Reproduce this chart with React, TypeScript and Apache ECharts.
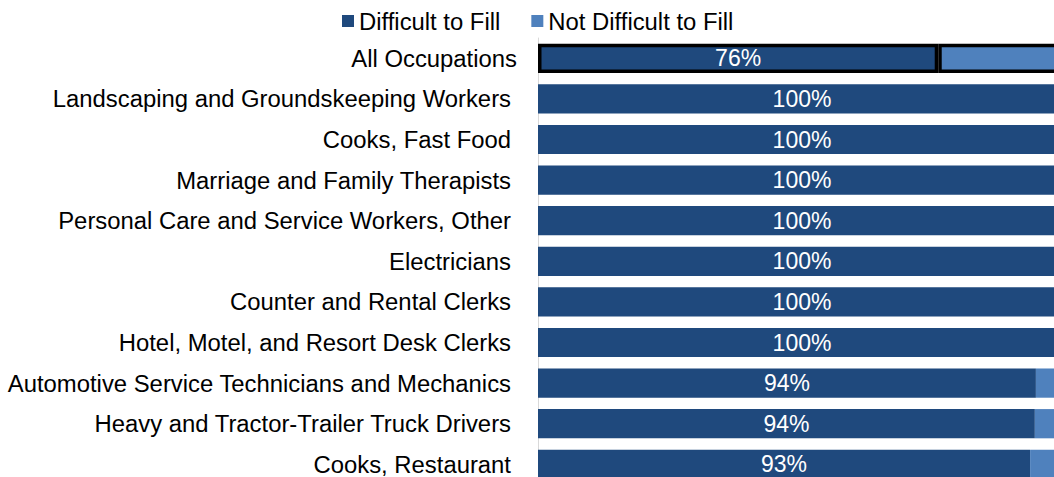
import React, { useEffect, useRef } from "react";
import * as echarts from "echarts";

const categories = [
  "All Occupations",
  "Landscaping and Groundskeeping Workers",
  "Cooks, Fast Food",
  "Marriage and Family Therapists",
  "Personal Care and Service Workers, Other",
  "Electricians",
  "Counter and Rental Clerks",
  "Hotel, Motel, and Resort Desk Clerks",
  "Automotive Service Technicians and Mechanics",
  "Heavy and Tractor-Trailer Truck Drivers",
  "Cooks, Restaurant",
];

const difficultToFill = [75.8, 100, 100, 100, 100, 100, 100, 100, 94.3, 94.1, 93.2];
const notDifficultToFill = [24.2, 0, 0, 0, 0, 0, 0, 0, 5.7, 5.9, 6.8];

const seriesNames = ["Difficult to Fill", "Not Difficult to Fill"];

const DARK = "#1F497D";
const LIGHT = "#4F81BD";
const FONT = "'Liberation Sans', Arial, sans-serif";
const FS = 23.85;

export default function App() {
  const ref = useRef<HTMLDivElement>(null);

  useEffect(() => {
    if (!ref.current) return;
    const chart = echarts.init(ref.current, undefined, { renderer: "svg" });

    const highlight = (i: number) =>
      i === 0 ? { borderColor: "#000", borderWidth: 3.5 } : {};

    chart.setOption({
      animation: false,
      textStyle: { fontFamily: FONT },
      legend: {
        data: seriesNames,
        left: 337,
        top: 4,
        icon: "rect",
        itemWidth: 12,
        itemHeight: 12,
        itemGap: 31,
        textStyle: { fontSize: FS, color: "#000", fontFamily: FONT },
      },
      grid: { left: 538, right: 4, top: 38, bottom: 5.4, containLabel: false },
      xAxis: { type: "value", min: 0, max: 100, show: false },
      yAxis: {
        type: "category",
        inverse: true,
        data: categories,
        axisLine: { show: true, lineStyle: { color: "#D9D9D9", width: 1 } },
        axisTick: { show: false },
        axisLabel: {
          margin: 21,
          fontSize: FS,
          color: "#000",
          fontFamily: FONT,
          formatter: (v: string) =>
            v === categories[0] ? `{a|${v}}` : `{b|${v}}`,
          rich: {
            a: { fontSize: FS, color: "#000", fontFamily: FONT },
            b: { fontSize: FS, color: "#000", fontFamily: FONT, padding: [0, 6, 0, 0] },
          },
        },
      },
      series: [
        {
          name: seriesNames[0],
          type: "bar",
          stack: "total",
          barCategoryGap: "28%",
          itemStyle: { color: DARK },
          label: {
            show: true,
            position: "inside",
            color: "#fff",
            fontSize: 23,
            fontFamily: FONT,
            formatter: (p: any) => `${Math.round(p.value)}%`,
          },
          data: difficultToFill.map((v, i) => ({
            value: v,
            itemStyle: { color: DARK, ...highlight(i) },
          })),
        },
        {
          name: seriesNames[1],
          type: "bar",
          stack: "total",
          barCategoryGap: "28%",
          itemStyle: { color: LIGHT },
          data: notDifficultToFill.map((v, i) => ({
            value: v,
            itemStyle: { color: LIGHT, ...highlight(i) },
          })),
        },
      ],
    });

    return () => chart.dispose();
  }, []);

  return (
    <div
      style={{
        position: "absolute",
        left: 0,
        top: 0,
        width: 1054,
        height: 477,
        overflow: "hidden",
      }}
    >
      <div ref={ref} style={{ width: 1070, height: 490 }} />
    </div>
  );
}
